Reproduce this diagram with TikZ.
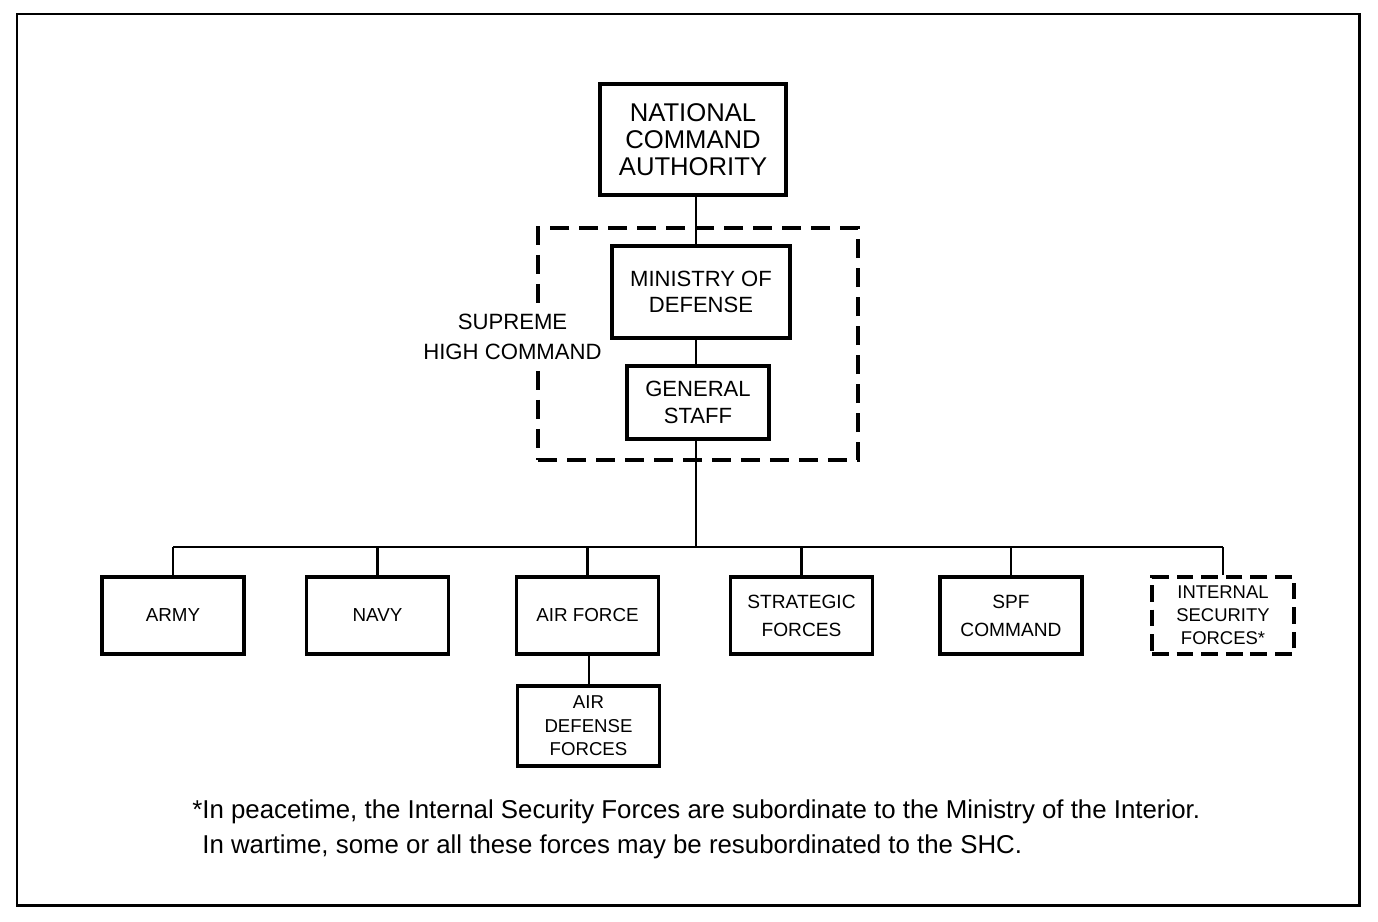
\documentclass[tikz,border=0pt]{standalone}
\usepackage{fontspec}
\setmainfont{Liberation Sans}
\usepackage{tikz}
\usetikzlibrary{positioning}

\tikzset{
  unitbox/.style={draw, line width=2.1pt, fill=white, inner sep=0pt, align=center},
  bigfont/.style={font=\fontsize{14.6}{15.3}\selectfont},
  midfont/.style={font=\fontsize{12.55}{15.1}\selectfont},
  smallfont/.style={font=\fontsize{10.7}{13.3}\selectfont},
  dashbox/.style={draw, line width=2.1pt, inner sep=0pt, dash pattern=on 11pt off 5.5pt},
  link/.style={line width=1.25pt}
}

\begin{document}
\begin{tikzpicture}[x=0.02cm,y=-0.02cm]
  \useasboundingbox (0,0) rectangle (1378,922);
  \draw[line width=1.7pt] (17,14) rectangle (1359,905);

   \draw (693,139.5) node[unitbox,bigfont,minimum width=3.72cm,minimum height=2.22cm] (nca) {NATIONAL\\COMMAND\\AUTHORITY};
   \draw (698,344) node[dashbox,minimum width=6.4cm,minimum height=4.64cm] (shc) {};
   \draw (701,292) node[unitbox,midfont,minimum width=3.56cm,minimum height=1.84cm] (mod) {MINISTRY OF\\DEFENSE};
   \draw (698,402.5) node[unitbox,midfont,minimum width=2.84cm,minimum height=1.46cm] (gs) {GENERAL\\STAFF};
   \draw (512.5,337) node[align=center,fill=white,inner sep=2pt,font=\fontsize{12.6}{17}\selectfont] (shclabel) {SUPREME\\HIGH COMMAND};
    \coordinate (bus) at (696,547);

  % services
  \tikzset{svc/.style={unitbox,smallfont,minimum width=2.84cm,minimum height=1.54cm}}
    \draw (173,615.5) node[svc] (army) {ARMY};
    \draw (377.5,615.5) node[svc] (navy) {NAVY};
    \draw (587.5,615.5) node[svc] (airforce) {AIR FORCE};
    \draw (801.5,615.5) node[svc,font=\fontsize{10.9}{15.9}\selectfont] (strategic) {STRATEGIC\\FORCES};
    \draw (1011,615.5) node[svc,font=\fontsize{10.9}{15.9}\selectfont] (spf) {SPF\\COMMAND};
    \draw (1223,615.5) node[svc,fill=none,draw=none,font=\fontsize{10.5}{13.1}\selectfont] (isf) {INTERNAL\\SECURITY\\FORCES*};
    \draw (isf) node[dashbox,minimum width=2.84cm,minimum height=1.54cm,dash pattern=on 9.5pt off 4.5pt] {};
    \draw (588.5,726) node[svc,minimum height=1.6cm,font=\fontsize{10.6}{13.3}\selectfont] (adf) {AIR\\DEFENSE\\FORCES};

       \path[link] (nca.south -| bus) edge (mod.north -| bus);
       \path[link] (mod.south -| bus) edge (gs.north -| bus);
       \path[link] (gs.south -| bus) edge (bus);
       \path[link] (army.north |- bus) edge (isf.north |- bus);
    \foreach \n in {army,navy,airforce,strategic,spf,isf}
       \path[link] (\n.north) edge (\n.north |- bus);
       \path[link] (airforce.south -| 589,0) edge (adf.north -| 589,0);

   \draw (192,829.5) node[anchor=west,align=left,inner sep=0pt,font=\fontsize{14.7}{19.8}\selectfont] (note)
     {*In peacetime, the Internal Security Forces are subordinate to the Ministry of the Interior.\\
      \hphantom{*}In wartime, some or all these forces may be resubordinated to the SHC.};
\end{tikzpicture}
\end{document}
